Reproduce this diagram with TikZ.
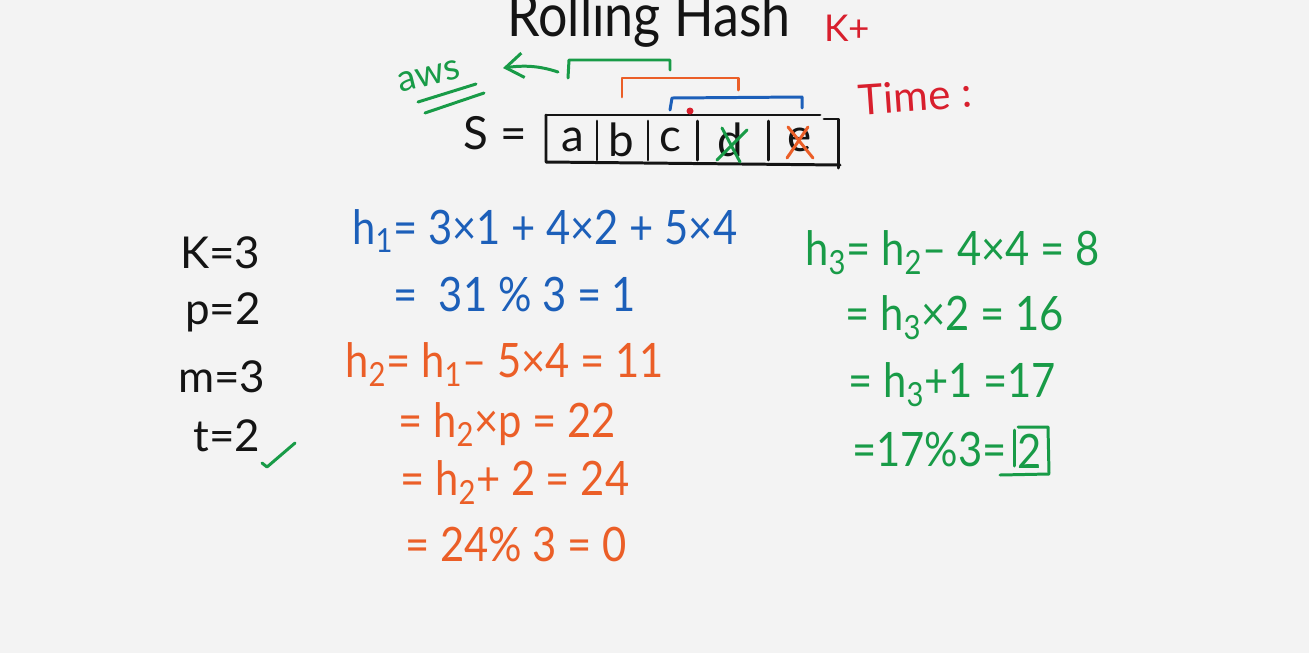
\documentclass[tikz,border=0pt]{standalone}
\usepackage{fontspec}
\setmainfont{Lato}
\usetikzlibrary{arrows.meta}

\definecolor{board}{HTML}{F3F3F3}
\definecolor{penblack}{HTML}{141414}
\definecolor{penblue}{HTML}{1C5FB9}
\definecolor{penorange}{HTML}{EB5E27}
\definecolor{pengreen}{HTML}{189B47}
\definecolor{penred}{HTML}{D81F2D}

\tikzset{
  ink/.style={line width=1.7pt, line cap=round, line join=round},
  eqline/.style={anchor=west, inner sep=0pt, xscale=0.88, font=\fontsize{27}{29}\selectfont},
  varline/.style={anchor=west, inner sep=0pt, text=penblack, font=\fontsize{25}{27}\selectfont},
  cellchar/.style={inner sep=0pt, text=penblack, font=\fontsize{26}{28}\selectfont},
}

\begin{document}
\begin{tikzpicture}[x=0.02cm, y=-0.02cm]
  \fill[board] (0,0) rectangle (1309,653);
  \useasboundingbox (0,0) rectangle (1309,653);

  % heading and side notes
  \node[anchor=base, inner sep=0pt, xscale=0.87, text=penblack, font=\fontsize{34}{36}\selectfont] (title) at (649,36) {Rolling Hash};
  \node[inner sep=0pt, text=penred, font=\fontsize{21}{23}\selectfont] (kplus) at (847,28) {K+};
  \node[inner sep=0pt, text=penred, font=\fontsize{24}{26}\selectfont, rotate=4] (time) at (915,96) {Time :};

  % the string
  \node[inner sep=0pt, text=penblack, font=\fontsize{26}{28}\selectfont] (seq) at (495,133) {S =};
  \draw[ink, penblack] (546,115) -- (820,115);
  \draw[ink, penblack] (546,115) -- (546,162) -- (840,165);
  \draw[ink, penblack] (824,119) -- (838,119) -- (838,168);
  \foreach \xd in {597,648,697,768}
    \draw[ink, penblack] (\xd,121) -- (\xd,160);
  \foreach \ch/\xc in {a/573, b/621, c/670, d/730, e/800}
    \node[cellchar] (cell-\ch) at (\xc,140) {\ch};

  % removed characters
  \draw[ink, pengreen] (722,128) -- (740,162) (747,130) -- (717,160);
  \draw[ink, penorange] (788,127) -- (813,158) (808,127) -- (787,158);

  % windows
  \draw[ink, pengreen] (568,78) -- (569,60) -- (670,60) -- (670,70);
  \draw[ink, penorange] (622,97) -- (622,78) -- (738,78) -- (738,90);
  \draw[ink, penblue] (670,110) -- (672,98) -- (802,97) -- (802,108);
  \fill[penred] (690,111) circle (3.5);

  % answer
  \node[inner sep=0pt, text=pengreen, font=\fontsize{21}{23}\selectfont, rotate=14] (ans) at (429,76) {aws};
  \coordinate (win) at (558,72);
  \coordinate (ansend) at (503,68);
  \draw[ink, pengreen, -{Straight Barb[length=10pt, width=14pt]}] (win) .. controls (540,66) and (525,65) .. (ansend);
  \draw[ink, pengreen] (418,102) -- (476,84) (425,113) -- (484,93);

  % parameters
  \node[varline] (kval) at (180,253) {K=3};
  \node[varline] (pval) at (185,312) {p=2};
  \node[varline] (mval) at (178,377) {m=3};
  \node[varline] (tval) at (193,436) {t=2};
  \draw[ink, pengreen] (262,463) -- (267,467) -- (295,443);

  % first window
  \node[eqline, text=penblue] (h1a) at (352,231) {h\textsubscript{1}= 3×1 + 4×2 + 5×4};
  \node[eqline, text=penblue] (h1b) at (393,295) {=\ \ 31 \% 3 = 1};

  % second window
  \node[eqline, text=penorange] (h2a) at (345,365) {h\textsubscript{2}= h\textsubscript{1}– 5×4 = 11};
  \node[eqline, text=penorange] (h2b) at (398,425) {= h\textsubscript{2}×p = 22};
  \node[eqline, text=penorange] (h2c) at (400,483) {= h\textsubscript{2}+ 2 = 24};
  \node[eqline, text=penorange] (h2d) at (405,545) {= 24\% 3 = 0};

  % third window
  \node[eqline, text=pengreen] (h3a) at (805,253) {h\textsubscript{3}= h\textsubscript{2}– 4×4 = 8};
  \node[eqline, text=pengreen] (h3b) at (845,318) {= h\textsubscript{3}×2 = 16};
  \node[eqline, text=pengreen] (h3c) at (848,385) {= h\textsubscript{3}+1 =17};
  \node[eqline, text=pengreen] (h3d) at (852,450) {=17\%3=};
  \node[inner sep=0pt, xscale=0.88, text=pengreen, font=\fontsize{27}{29}\selectfont] (res) at (1030,451) {2};
  \draw[ink, pengreen] (1014,430) -- (1014,466);
  \draw[ink, pengreen] (1018,427) -- (1048,427) -- (1049,473);
  \draw[ink, pengreen] (1000,475) -- (1049,474);
\end{tikzpicture}
\end{document}
